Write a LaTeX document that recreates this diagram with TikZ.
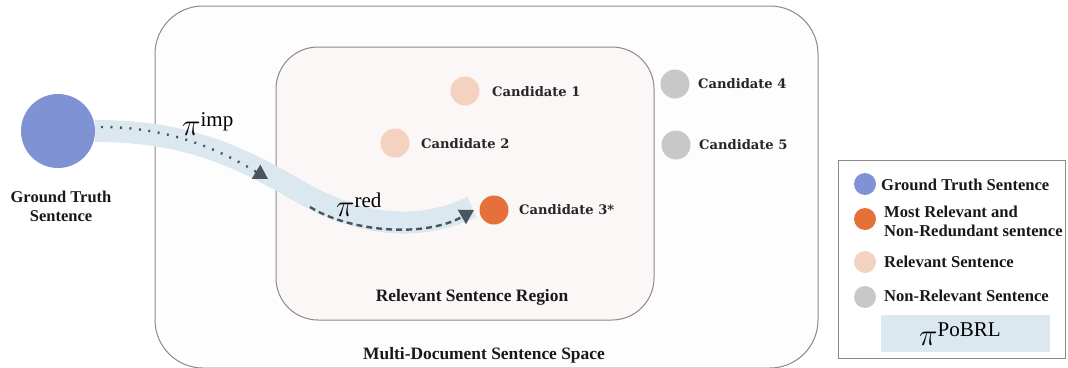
\documentclass[tikz,border=0pt]{standalone}
\usepackage{graphicx}
\usepackage{fontspec}
\setmainfont{Liberation Serif}
\newfontfamily\candfont{DejaVu Serif}
\usetikzlibrary{arrows.meta}
\definecolor{gtblue}{HTML}{7F93D4}
\definecolor{relorange}{HTML}{F3D3BF}
\definecolor{bestorange}{HTML}{E5703A}
\definecolor{nrgray}{HTML}{C8C8C8}
\definecolor{bandblue}{HTML}{DCE8F0}
\definecolor{arrowgray}{HTML}{4A5560}
\definecolor{boxline}{HTML}{8A8A8A}
\definecolor{outerfill}{HTML}{FDFDFD}
\definecolor{innerfill}{HTML}{FBF7F6}
\newcommand{\pilabel}[1]{\scalebox{1.5}{\fontsize{20}{20}\selectfont$\pi$}\raisebox{9pt}{\fontsize{21}{21}\selectfont$\mathrm{#1}$}}
\tikzset{
  dot/.style={circle, inner sep=0pt, minimum size=#1},
  lbl/.style={font=\fontsize{17.4}{19}\selectfont\bfseries, align=center, text=black!90},
  cand/.style={font=\candfont\fontsize{13.1}{14}\selectfont\bfseries, anchor=west, text=black!85, inner sep=0pt},
  leg/.style={font=\fontsize{16.6}{16}\selectfont\bfseries, anchor=west, align=left, inner sep=0pt, text=black!90},
  pilbl/.style={inner sep=0pt},
  arr/.style={arrowgray, line width=2.4pt, -{Triangle[length=14pt,width=16pt]}},
}
\begin{document}
\begin{tikzpicture}[x=1pt,y=1pt]
\useasboundingbox (0,0) rectangle (1068,-367);
% outer box
\draw[boxline, fill=outerfill, line width=1pt, rounded corners=48pt] (155,-6) rectangle (818,-368);
\node[lbl] (outerlbl) at (484,-355) {Multi-Document Sentence Space};
% inner box
\draw[boxline, fill=innerfill, line width=1pt, rounded corners=42pt] (276,-47) rectangle (654,-320);
\node[lbl] (innerlbl) at (472,-297) {Relevant Sentence Region};
% band
\draw[bandblue, line width=22pt] (95,-131) .. controls (180,-131) and (230,-152) .. (290,-186) .. controls (350,-222) and (410,-236) .. (472,-207);
% ground truth
\node[dot=74pt, fill=gtblue] (gt) at (58,-131) {};
\node[lbl, font=\fontsize{16.5}{19}\selectfont\bfseries] (gtlbl) at (61,-206) {Ground Truth\\Sentence};
% candidates
\node[dot=29pt, fill=relorange] (c1) at (465,-91) {};
\node[cand] (c1l) at (492,-92) {Candidate 1};
\node[dot=29pt, fill=relorange] (c2) at (395,-143) {};
\node[cand] (c2l) at (421,-144) {Candidate 2};
\node[dot=29pt, fill=bestorange] (c3) at (494,-210) {};
\node[cand] (c3l) at (519,-210) {Candidate 3*};
\node[dot=29pt, fill=nrgray] (c4) at (675,-84) {};
\node[cand] (c4l) at (698,-84) {Candidate 4};
\node[dot=29pt, fill=nrgray] (c5) at (676,-145) {};
\node[cand] (c5l) at (699,-145) {Candidate 5};
% arrows
\coordinate (a1s) at (101,-127);
\coordinate (a1e) at (268,-179);
\coordinate (a2s) at (310,-207);
\coordinate (a2e) at (474,-210);
\draw[arr, dash pattern=on 2pt off 7.5pt] (a1s) .. controls (170,-127) and (220,-150) .. (a1e);
\draw[arr, dash pattern=on 6pt off 4pt] (a2s) .. controls (350,-232) and (425,-238) .. (a2e);
\node[pilbl, anchor=base west] (pimp) at (182,-135) {\pilabel{imp}};
\node[pilbl, anchor=base west] (pred) at (336,-216) {\pilabel{red}};
% legend
\draw[boxline, line width=1pt] (838,-160) rectangle (1065,-358);
\node[dot=22pt, fill=gtblue] (l1) at (865,-184) {};
\node[leg] (l1t) at (881,-185) {Ground Truth Sentence};
\node[dot=22pt, fill=bestorange] (l2) at (865,-219) {};
\node[leg, font=\fontsize{16.6}{19}\selectfont\bfseries] (l2t) at (884,-221) {Most Relevant and\\Non-Redundant sentence};
\node[dot=22pt, fill=relorange] (l3) at (865,-262) {};
\node[leg] (l3t) at (884,-262) {Relevant Sentence};
\node[dot=22pt, fill=nrgray] (l4) at (865,-297) {};
\node[leg] (l4t) at (884,-296) {Non-Relevant Sentence};
\fill[bandblue] (881,-315) rectangle (1050,-352);
\node[pilbl, anchor=base west] (lpi) at (919,-345) {\pilabel{PoBRL}};
\end{tikzpicture}
\end{document}
